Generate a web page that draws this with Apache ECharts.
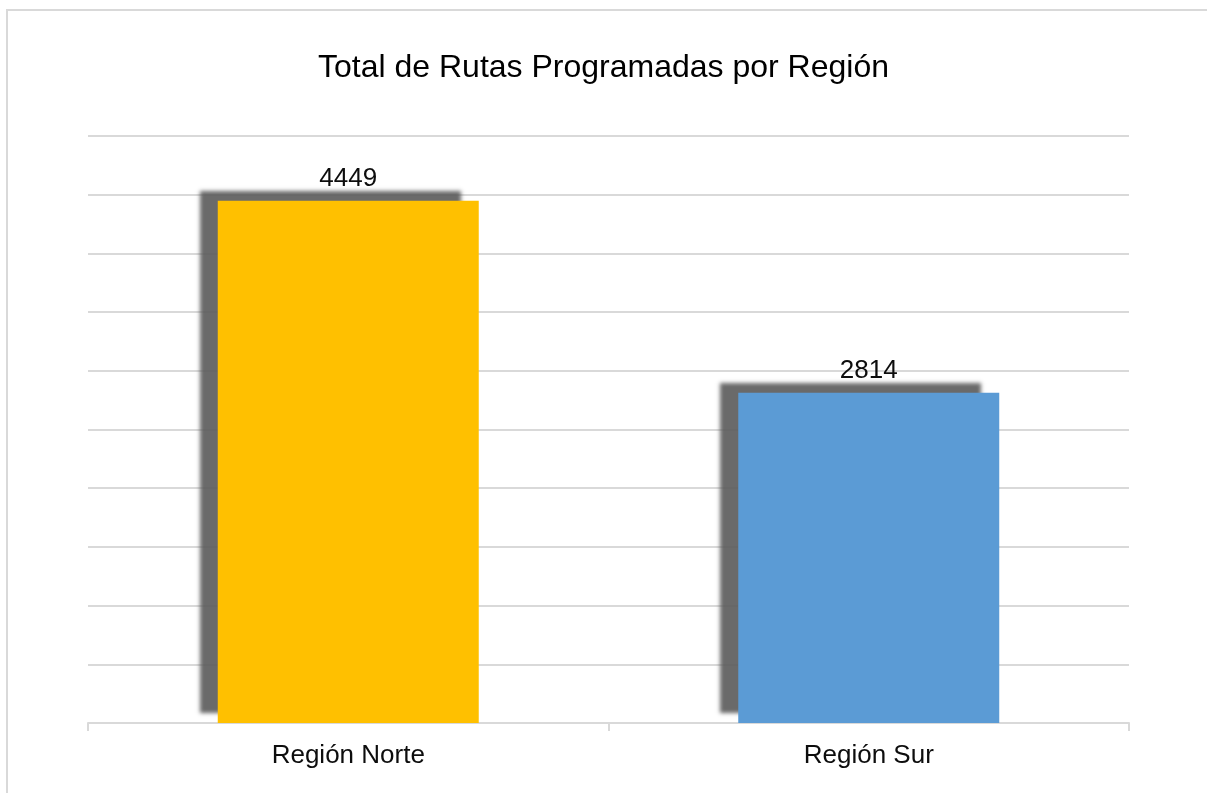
<!DOCTYPE html>
<html>
<head>
<meta charset="utf-8">
<script src="https://cdn.jsdelivr.net/npm/echarts@6/dist/echarts.min.js"></script>
<style>
  html, body { margin: 0; padding: 0; background: #fff; }
  #frame { position: absolute; left: 6px; top: 9px; width: 1300px; height: 900px;
           border-top: 2px solid #d9d9d9; border-left: 2px solid #d9d9d9; }
  #main { position: absolute; left: 0; top: 0; width: 1207px; height: 793px; }
</style>
</head>
<body>
<div id="frame"></div>
<div id="main"></div>
<script>
// datos del gráfico
var regiones = ['Región Norte', 'Región Sur'];
var rutas = [4449, 2814];
var coloresBarra = ['#FFC000', '#5B9BD5'];

var fuente = '"Liberation Sans", Arial, sans-serif';
var chart = echarts.init(document.getElementById('main'));

chart.setOption({
    animation: false,
    title: {
        text: 'Total de Rutas Programadas por Región',
        left: 'center',
        top: 47,
        textStyle: { fontFamily: fuente, fontSize: 32, fontWeight: 'normal', color: '#000' }
    },
    grid: { left: 88, right: 78, top: 136, bottom: 70 },
    xAxis: {
        type: 'category',
        data: regiones,
        axisLine: { lineStyle: { color: '#d9d9d9', width: 2 } },
        axisTick: { show: true, length: 8, lineStyle: { color: '#d9d9d9', width: 2 } },
        axisLabel: { margin: 20, fontFamily: fuente, fontSize: 26, color: '#0d0d0d' }
    },
    yAxis: {
        type: 'value',
        min: 0,
        max: 5000,
        interval: 500,
        axisLabel: { show: false },
        axisLine: { show: false },
        axisTick: { show: false },
        splitLine: { lineStyle: { color: '#d9d9d9', width: 2 } }
    },
    series: [{
        type: 'bar',
        barWidth: 261,
        data: rutas.map(function (v, i) {
            return { value: v, itemStyle: { color: coloresBarra[i] } };
        }),
        itemStyle: {
            shadowColor: 'rgba(90,90,90,0.9)',
            shadowBlur: 4,
            shadowOffsetX: -18,
            shadowOffsetY: -10
        },
        label: {
            show: true,
            position: 'top',
            distance: 9,
            fontFamily: fuente,
            fontSize: 26,
            color: '#0d0d0d'
        }
    }]
});
</script>
</body>
</html>
